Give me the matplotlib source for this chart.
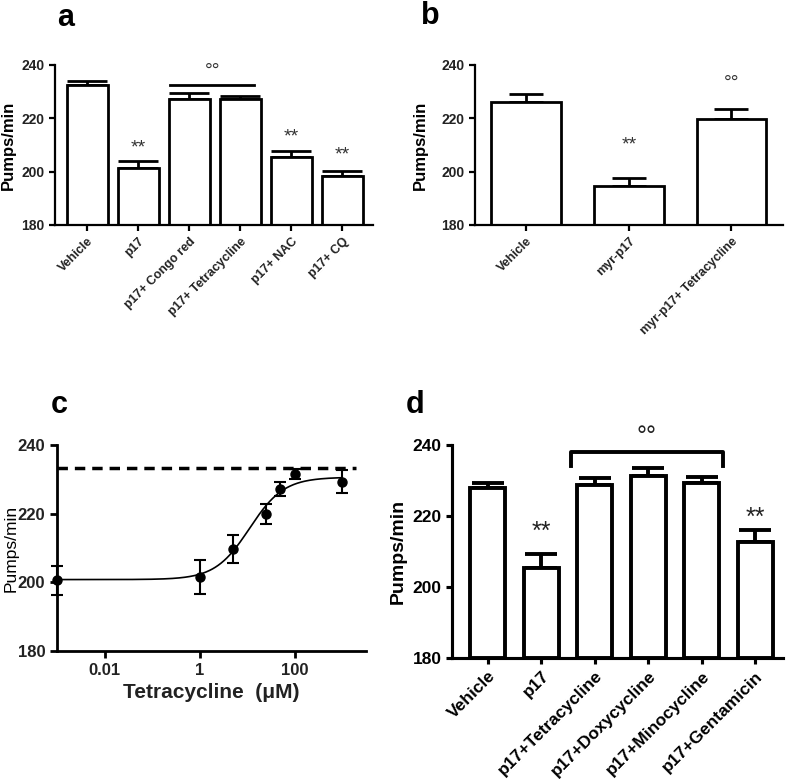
import numpy as np
import matplotlib.pyplot as plt
from matplotlib.ticker import FixedLocator, NullLocator

plt.rcParams['font.family'] = ['Liberation Sans', 'DejaVu Sans']

# panel a
a_labels = ['Vehicle', 'p17', 'p17+ Congo red', 'p17+ Tetracycline', 'p17+ NAC', 'p17+ CQ']
a_vals = [232.5, 201.5, 227.1, 227.3, 205.4, 198.2]
a_err = [1.5, 2.5, 2.3, 1.1, 2.3, 2.2]
a_stars = [None, 208.9, None, None, 213.1, 206.3]

# panel b
b_labels = ['Vehicle', 'myr-p17', 'myr-p17+ Tetracycline']
b_vals = [226.3, 194.5, 219.8]
b_err = [2.8, 3.1, 3.7]

# panel c
c_conc = [0.001, 1, 5, 25, 50, 100, 1000]
c_vals = [200.6, 201.5, 209.7, 219.9, 227.1, 231.5, 229.3]
c_err = [4.2, 5.0, 4.0, 3.0, 2.0, 1.5, 3.3]
c_vehicle = 233.2
c_bottom, c_top, c_logec50, c_hill = 200.8, 230.6, 1.05, 1.2

# panel d
d_labels = ['Vehicle', 'p17', 'p17+Tetracycline', 'p17+Doxycycline', 'p17+Minocycline', 'p17+Gentamicin']
d_vals = [228.0, 205.3, 228.8, 231.3, 229.4, 212.6]
d_err = [1.4, 3.9, 1.8, 2.1, 1.5, 3.6]

fig = plt.figure(figsize=(7.87, 7.79), dpi=100)


def bar_panel(ax, labels, vals, errs, width, lw, fs, yfs, color):
    x = np.arange(len(vals))
    ax.errorbar(x, vals, yerr=[np.zeros(len(vals)), errs], fmt='none', ecolor='black',
                elinewidth=lw, capsize=width * 18, capthick=lw, zorder=1)
    ax.bar(x, np.array(vals) - 180, bottom=180, width=width, color='white',
           edgecolor='black', linewidth=lw, zorder=2)
    ax.set_ylim(180, 240)
    ax.set_yticks([180, 200, 220, 240])
    ax.set_xticks(x)
    ax.set_xticklabels(labels, rotation=45, ha='right', rotation_mode='anchor',
                       fontsize=fs, fontweight='bold', color=color)
    for t in ax.get_yticklabels():
        t.set_fontsize(yfs)
        t.set_fontweight('bold')
        t.set_color(color)
    ax.spines['top'].set_visible(False)
    ax.spines['right'].set_visible(False)
    ax.spines['left'].set_linewidth(lw * 0.8)
    ax.spines['bottom'].set_linewidth(lw * 0.8)
    ax.tick_params(width=lw * 0.8, length=4)
    return x


# a
ax_a = fig.add_axes([0.0699, 0.7112, 0.404, 0.2054])
bar_panel(ax_a, a_labels, a_vals, a_err, 0.8, 2.0, 9, 10, '#222222')
ax_a.set_xlim(-0.63, 5.6)
ax_a.set_ylabel('Pumps/min', fontsize=12, fontweight='bold')
for i, s in enumerate(a_stars):
    if s is not None:
        ax_a.text(i, s, '**', ha='center', va='center', fontsize=14, color='#333333')
ax_a.plot([1.63, 3.27], [232.5, 232.5], color='black', lw=2)
ax_a.text(2.45, 237.6, '°°', ha='center', va='center', fontsize=14, color='#333333')
fig.text(0.083, 0.977, 'a', fontsize=22, fontweight='bold', ha='center', va='center')

# b
ax_b = fig.add_axes([0.6036, 0.7112, 0.391, 0.2054])
bar_panel(ax_b, b_labels, b_vals, b_err, 0.68, 2.0, 9, 10, '#222222')
ax_b.set_xlim(-0.5, 2.5)
ax_b.set_ylabel('Pumps/min', fontsize=12, fontweight='bold', labelpad=10)
ax_b.text(1, 210, '**', ha='center', va='center', fontsize=14, color='#333333')
ax_b.text(2, 233.0, '°°', ha='center', va='center', fontsize=14, color='#333333')
fig.text(0.547, 0.98, 'b', fontsize=22, fontweight='bold', ha='center', va='center')

# c
ax_c = fig.add_axes([0.0724, 0.1643, 0.3926, 0.2645])
ax_c.set_xscale('log')
xs = np.logspace(-3, 3, 300)
fit = c_bottom + (c_top - c_bottom) / (1 + 10 ** ((c_logec50 - np.log10(xs)) * c_hill))
ax_c.plot(xs, fit, color='black', lw=1.2)
ax_c.errorbar(c_conc, c_vals, yerr=c_err, fmt='o', color='black', ms=6.5,
              elinewidth=1.5, capsize=4, capthick=1.5, clip_on=False, zorder=3)
ax_c.plot([0.001, 2000], [c_vehicle, c_vehicle], color='black', lw=2.5, ls=(0, (3, 2)))
ax_c.set_xlim(0.001, 3162)
ax_c.set_ylim(180, 240)
ax_c.set_yticks([180, 200, 220, 240])
ax_c.xaxis.set_major_locator(FixedLocator([0.01, 1, 100]))
ax_c.xaxis.set_minor_locator(NullLocator())
ax_c.set_xticklabels(['0.01', '1', '100'])
for t in ax_c.get_xticklabels() + ax_c.get_yticklabels():
    t.set_fontsize(12)
    t.set_fontweight('bold')
    t.set_color('#222222')
ax_c.set_xlabel('Tetracycline  (μM)', fontsize=15, fontweight='bold', color='#222222')
ax_c.set_ylabel('Pumps/min', fontsize=12.5)
ax_c.yaxis.set_label_coords(-0.125, 0.5)
ax_c.spines['top'].set_visible(False)
ax_c.spines['right'].set_visible(False)
ax_c.spines['left'].set_linewidth(2)
ax_c.spines['bottom'].set_linewidth(2)
ax_c.tick_params(width=2, length=5)
fig.text(0.075, 0.48, 'c', fontsize=22, fontweight='bold', ha='center', va='center')

# d
ax_d = fig.add_axes([0.5743, 0.1553, 0.4206, 0.2734])
bar_panel(ax_d, d_labels, d_vals, d_err, 0.65, 2.8, 12.5, 12.5, 'black')
ax_d.set_xlim(-0.67, 5.52)
ax_d.set_ylabel('Pumps/min', fontsize=14, fontweight='bold')
ax_d.text(1, 215.6, '**', ha='center', va='center', fontsize=18, color='#222222')
ax_d.text(5, 219.4, '**', ha='center', va='center', fontsize=18, color='#222222')
ax_d.plot([1.55, 1.55, 4.4, 4.4], [234, 238, 238, 234], color='black', lw=2.8,
          clip_on=False)
ax_d.text(2.97, 242.3, '°°', ha='center', va='center', fontsize=18, color='#222222')
fig.text(0.528, 0.48, 'd', fontsize=22, fontweight='bold', ha='center', va='center')

fig.savefig('out.png', dpi=100)
